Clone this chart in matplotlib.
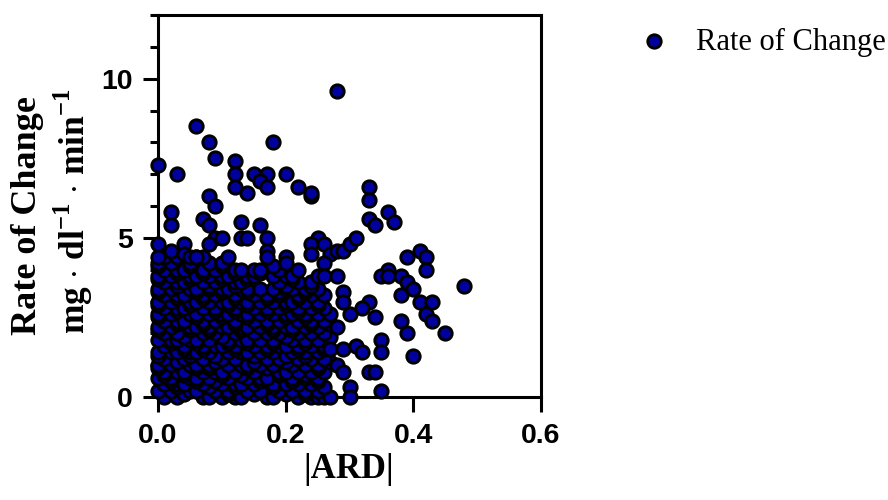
import matplotlib
matplotlib.use("Agg")
import matplotlib.pyplot as plt
from matplotlib import font_manager
from matplotlib.ticker import MultipleLocator

# ---------------------------------------------------------------------------
# Data: |ARD| (x) vs rate of change (y)
# ---------------------------------------------------------------------------

# sparse points above / right of the main cluster
outlier_ard = [0.28, 0.06, 0.08, 0.18, 0.00, 0.09, 0.03, 0.12, 0.12, 0.12,
               0.14, 0.15, 0.17, 0.16, 0.17, 0.20, 0.22, 0.24, 0.24, 0.33,
               0.33, 0.33, 0.34, 0.36, 0.37, 0.08, 0.09, 0.02, 0.02, 0.07,
               0.08, 0.13, 0.16, 0.13, 0.14, 0.17, 0.17, 0.17, 0.09, 0.10,
               0.08, 0.00, 0.00, 0.02, 0.04, 0.04, 0.05, 0.06, 0.11, 0.25,
               0.24, 0.24, 0.26, 0.27, 0.28, 0.29, 0.30, 0.31, 0.20, 0.20,
               0.26, 0.25, 0.26, 0.28, 0.39, 0.41, 0.42, 0.42, 0.48, 0.36,
               0.35, 0.36, 0.38, 0.39, 0.40, 0.38, 0.41, 0.43, 0.42, 0.43,
               0.38, 0.39, 0.45, 0.40, 0.35, 0.35, 0.33, 0.34, 0.35, 0.30,
               0.30, 0.33, 0.32, 0.34, 0.29, 0.29, 0.30, 0.28, 0.27, 0.29,
               0.31, 0.32, 0.28, 0.29]
outlier_roc = [9.6, 8.5, 8.0, 8.0, 7.3, 7.5, 7.0, 7.4, 7.0, 6.6,
               6.4, 7.0, 7.0, 6.8, 6.6, 7.0, 6.6, 6.3, 6.4, 6.6,
               6.2, 5.6, 5.4, 5.8, 5.5, 6.3, 6.0, 5.8, 5.4, 5.6,
               5.4, 5.5, 5.4, 5.0, 5.0, 5.0, 4.6, 4.4, 5.0, 5.0,
               4.8, 4.8, 4.4, 4.6, 4.8, 4.5, 4.4, 4.4, 4.4, 5.0,
               4.8, 4.5, 4.8, 4.5, 4.6, 4.6, 4.8, 5.0, 4.4, 4.2,
               4.2, 3.8, 3.8, 3.8, 4.4, 4.6, 4.4, 4.0, 3.5, 4.0,
               3.8, 3.8, 3.8, 3.6, 3.4, 3.2, 3.0, 3.0, 2.6, 2.4,
               2.4, 2.0, 2.0, 1.3, 1.8, 1.4, 0.8, 0.8, 0.2, 0.3,
               0.0, 3.0, 2.8, 2.5, 3.3, 3.0, 2.6, 2.2, 1.5, 1.5,
               1.6, 1.4, 1.0, 0.8]

# dense cluster, one row of |ARD| values per rate-of-change level
cluster_roc = [0.0, 0.1, 0.2, 0.3, 0.4, 0.5, 0.6, 0.7, 0.8, 0.9, 1.0, 1.1,
               1.2, 1.3, 1.4, 1.5, 1.6, 1.7, 1.8, 1.9, 2.0, 2.1, 2.2, 2.3,
               2.4, 2.5, 2.6, 2.7, 2.8, 2.9, 3.0, 3.1, 3.2, 3.3, 3.4, 3.5,
               3.6, 3.7, 3.8, 3.9, 4.0, 4.1, 4.2, 4.4]
cluster_ard = [
    [0.01, 0.03, 0.07, 0.08, 0.10, 0.12, 0.13, 0.17, 0.18, 0.22, 0.24, 0.25, 0.26, 0.27],
    [0.04, 0.11, 0.15, 0.20, 0.23],
    [0.00, 0.02, 0.05, 0.06, 0.09, 0.11, 0.14, 0.16, 0.19, 0.21, 0.23, 0.25],
    [0.03, 0.08, 0.12, 0.18, 0.26],
    [0.01, 0.03, 0.04, 0.07, 0.10, 0.12, 0.13, 0.15, 0.18, 0.20, 0.22, 0.24],
    [0.02, 0.06, 0.09, 0.16, 0.21, 0.25],
    [0.00, 0.02, 0.05, 0.06, 0.08, 0.11, 0.14, 0.16, 0.17, 0.21, 0.23, 0.25],
    [0.01, 0.04, 0.10, 0.13, 0.19, 0.23],
    [0.01, 0.03, 0.04, 0.07, 0.09, 0.10, 0.12, 0.15, 0.19, 0.20, 0.22, 0.24, 0.26],
    [0.00, 0.06, 0.08, 0.14, 0.17, 0.25],
    [0.00, 0.02, 0.05, 0.06, 0.08, 0.11, 0.13, 0.14, 0.16, 0.18, 0.21, 0.23, 0.25],
    [0.03, 0.09, 0.15, 0.20, 0.27],
    [0.01, 0.04, 0.07, 0.10, 0.12, 0.17, 0.19, 0.22, 0.24, 0.26],
    [0.00, 0.05, 0.09, 0.15, 0.20, 0.23],
    [0.00, 0.02, 0.03, 0.05, 0.06, 0.08, 0.11, 0.13, 0.14, 0.16, 0.18, 0.21, 0.23, 0.25],
    [0.04, 0.07, 0.12, 0.17, 0.22, 0.26],
    [0.01, 0.04, 0.07, 0.09, 0.10, 0.12, 0.15, 0.17, 0.19, 0.20, 0.22, 0.24, 0.26],
    [0.02, 0.06, 0.11, 0.14, 0.18, 0.23],
    [0.00, 0.02, 0.03, 0.05, 0.06, 0.08, 0.11, 0.13, 0.14, 0.16, 0.18, 0.21, 0.23, 0.25],
    [0.04, 0.10, 0.20, 0.27],
    [0.01, 0.03, 0.07, 0.09, 0.12, 0.15, 0.17, 0.19, 0.22, 0.24, 0.26],
    [0.00, 0.05, 0.08, 0.13, 0.18, 0.21],
    [0.00, 0.02, 0.05, 0.06, 0.08, 0.10, 0.11, 0.13, 0.14, 0.16, 0.18, 0.20, 0.21, 0.23, 0.25],
    [0.03, 0.07, 0.12, 0.17, 0.24, 0.27],
    [0.01, 0.03, 0.04, 0.07, 0.09, 0.12, 0.15, 0.17, 0.19, 0.22, 0.24, 0.26],
    [0.00, 0.06, 0.10, 0.14, 0.20, 0.23],
    [0.00, 0.02, 0.05, 0.06, 0.08, 0.10, 0.11, 0.13, 0.14, 0.16, 0.18, 0.20, 0.21, 0.23, 0.25, 0.27],
    [0.03, 0.09, 0.12, 0.17, 0.22],
    [0.01, 0.03, 0.04, 0.07, 0.09, 0.12, 0.15, 0.17, 0.19, 0.22, 0.24, 0.26],
    [0.00, 0.05, 0.11, 0.14, 0.20, 0.25],
    [0.00, 0.02, 0.05, 0.06, 0.08, 0.10, 0.11, 0.13, 0.14, 0.16, 0.18, 0.20, 0.21, 0.23, 0.25],
    [0.03, 0.07, 0.12, 0.17, 0.22],
    [0.01, 0.03, 0.04, 0.07, 0.09, 0.12, 0.15, 0.17, 0.19, 0.22, 0.24, 0.26],
    [0.00, 0.06, 0.10, 0.14, 0.19, 0.23],
    [0.00, 0.02, 0.05, 0.06, 0.08, 0.10, 0.11, 0.13, 0.14, 0.16, 0.18, 0.20, 0.21, 0.23, 0.25],
    [0.03, 0.08, 0.12, 0.20, 0.24],
    [0.01, 0.03, 0.04, 0.07, 0.09, 0.12, 0.13, 0.19, 0.22, 0.24],
    [0.00, 0.05, 0.10, 0.14, 0.21],
    [0.00, 0.02, 0.05, 0.06, 0.08, 0.10, 0.11, 0.14, 0.15, 0.18, 0.20, 0.21],
    [0.03, 0.07, 0.12, 0.16],
    [0.01, 0.03, 0.04, 0.07, 0.09, 0.12, 0.13, 0.15, 0.16, 0.19, 0.22],
    [0.00, 0.05, 0.10, 0.18],
    [0.00, 0.02, 0.05, 0.08, 0.10],
    [0.01, 0.03, 0.06, 0.07],
]

x_ticks = [0.0, 0.2, 0.4, 0.6]
x_tick_labels = ["0.0", "0.2", "0.4", "0.6"]
y_ticks = [0, 5, 10]
y_tick_labels = ["0", "5", "10"]

# flatten the cluster rows and append the sparse points
ard = []
roc = []
for level, row in zip(cluster_roc, cluster_ard):
    ard.extend(row)
    roc.extend([level] * len(row))
ard.extend(outlier_ard)
roc.extend(outlier_roc)

# ---------------------------------------------------------------------------
# Fonts: Times-like serif for titles, Arial-like bold sans for tick labels
# ---------------------------------------------------------------------------
plt.rcParams["mathtext.fontset"] = "custom"
plt.rcParams["mathtext.rm"] = "Liberation Serif:bold"
plt.rcParams["mathtext.bf"] = "Liberation Serif:bold"

SERIF = "Liberation Serif"


def sans_bold(size):
    """Regular-width Liberation Sans Bold (avoid the Narrow variant)."""
    for path in font_manager.findSystemFonts():
        name = path.rsplit("/", 1)[-1]
        if name == "LiberationSans-Bold.ttf":
            return font_manager.FontProperties(fname=path, size=size)
    return font_manager.FontProperties(family="DejaVu Sans", weight="bold", size=size)


tick_font = sans_bold(20.5)

# ---------------------------------------------------------------------------
# Figure
# ---------------------------------------------------------------------------
fig = plt.figure(figsize=(8.88, 5.0), dpi=100)
ax = fig.add_axes([158 / 888, 103 / 500, 383 / 888, 382 / 500])

ax.scatter(ard, roc, s=92, c="#00009E", edgecolors="black", linewidths=2.1,
           clip_on=False, zorder=3, label="Rate of Change")

ax.set_xlim(0, 0.6)
ax.set_ylim(0, 12)
ax.set_xticks(x_ticks)
ax.set_xticklabels(x_tick_labels)
ax.set_yticks(y_ticks)
ax.set_yticklabels(y_tick_labels)
ax.yaxis.set_minor_locator(MultipleLocator(1))

for sp in ax.spines.values():
    sp.set_linewidth(2.2)
ax.tick_params(which="major", length=11, width=2.2)
ax.tick_params(axis="x", which="major", pad=8)
ax.tick_params(axis="y", which="major", pad=7)
ax.tick_params(which="minor", length=6, width=2.2)
for lbl in ax.get_xticklabels() + ax.get_yticklabels():
    lbl.set_fontproperties(tick_font)

fig.text(349 / 888, 1 - 470 / 500, "|ARD|", family=SERIF, weight="bold",
         fontsize=25, ha="center", va="center")
fig.text(27 / 888, 1 - 335 / 500, "Rate of Change", family=SERIF, weight="bold",
         fontsize=26, rotation=90, ha="center", va="bottom")
fig.text(73 / 888, 1 - 334 / 500, r"mg $\cdot$ dl$^{-1}$ $\cdot$ min$^{-1}$",
         family=SERIF, weight="bold", fontsize=25.5, rotation=90,
         ha="center", va="bottom")

leg = fig.legend(loc="center left", bbox_to_anchor=(639 / 888, 1 - 42 / 500),
                 frameon=False, prop={"family": SERIF, "size": 22},
                 handletextpad=0.85, borderpad=0, borderaxespad=0,
                 handlelength=1.0)

fig.savefig("out.png", dpi=100)
